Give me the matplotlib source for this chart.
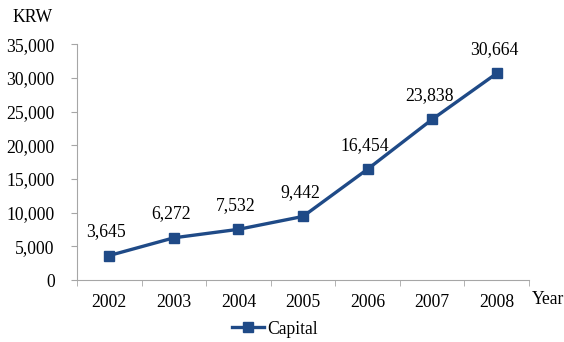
import matplotlib.pyplot as plt
from matplotlib.ticker import FuncFormatter

years = ["2002", "2003", "2004", "2005", "2006", "2007", "2008"]
capital = [3645, 6272, 7532, 9442, 16454, 23838, 30664]
y_ticks = [0, 5000, 10000, 15000, 20000, 25000, 30000, 35000]

line_color = "#1F4A87"
axis_color = "#A6A6A6"

plt.rcParams["font.family"] = ["Liberation Serif", "DejaVu Serif"]
plt.rcParams["font.size"] = 12.7

fig = plt.figure(figsize=(5.64, 3.42), dpi=100)
ax = fig.add_axes([0.1365, 0.181, 0.8015, 0.69])

x = list(range(len(years)))
ax.plot(x, capital, color=line_color, linewidth=2.4, marker="s",
        markersize=7.5, label="Capital")

for xi, val in zip(x, capital):
    ax.annotate(f"{val:,}", (xi, val), xytext=(-2, 11), textcoords="offset points",
                ha="center", va="bottom")

ax.set_xlim(-0.5, len(years) - 0.5)
ax.set_ylim(0, 35000)
ax.set_yticks(y_ticks)
ax.yaxis.set_major_formatter(FuncFormatter(lambda v, p: f"{int(v):,}"))

ax.set_xticks(x)
ax.set_xticklabels(years)
ax.set_xticks([i - 0.5 for i in range(len(years) + 1)], minor=True)
ax.tick_params(axis="x", which="major", length=0, pad=10)
ax.tick_params(axis="x", which="minor", length=4, color=axis_color)
ax.tick_params(axis="y", length=4, color=axis_color, pad=12)

for side in ("top", "right"):
    ax.spines[side].set_visible(False)
for side in ("left", "bottom"):
    ax.spines[side].set_color(axis_color)

fig.text(12 / 564, 1 - 17 / 342, "KRW", ha="left", va="center")
fig.text(532 / 564, 1 - 300 / 342, "Year", ha="left", va="center")

fig.legend(loc="center", bbox_to_anchor=(0.4876, 0.038), frameon=False,
           handlelength=1.8, handletextpad=0.2)

fig.savefig("out.png", dpi=100)
